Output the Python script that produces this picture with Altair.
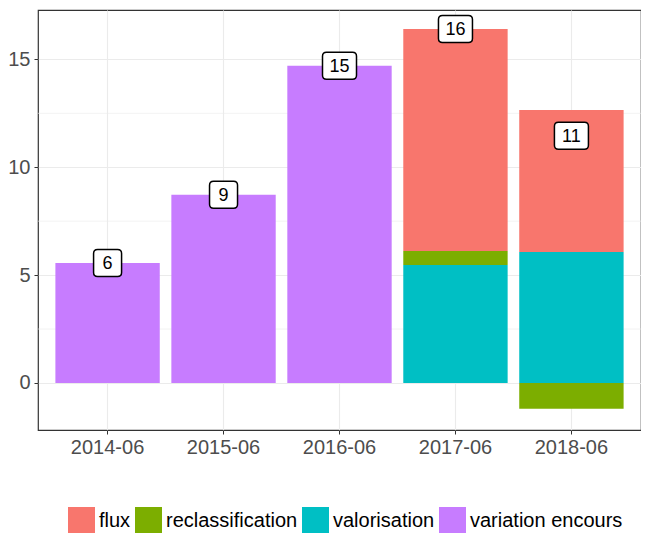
import altair as alt
import pandas as pd

# ---- data ----
dates = ["2014-06", "2015-06", "2016-06", "2017-06", "2018-06"]
series = ["flux", "reclassification", "valorisation", "variation encours"]
flux = [0, 0, 0, 10.29, 6.59]
reclassification = [0, 0, 0, 0.65, -1.2]
valorisation = [0, 0, 0, 5.47, 6.07]
variation_encours = [5.56, 8.72, 14.7, 0, 0]
colors = ["#F8766D", "#7CAE00", "#00BFC4", "#C77CFF"]
y_ticks = [0, 5, 10, 15]
y_minor = [2.5, 7.5, 12.5]

rows = []
for name, vals in zip(series, [flux, reclassification, valorisation, variation_encours]):
    for d, v in zip(dates, vals):
        if v != 0:
            rows.append({"date": d, "type": name, "value": v})
df = pd.DataFrame(rows)
order_map = {"valorisation": 1, "reclassification": 2, "flux": 3, "variation encours": 4}
df["ord"] = df["type"].map(order_map)

minor_df = pd.DataFrame({"y": y_minor})


def rrect(w, h, r):
    return (f"M {-w + r} {-h} L {w - r} {-h} Q {w} {-h} {w} {-h + r} "
            f"L {w} {h - r} Q {w} {h} {w - r} {h} L {-w + r} {h} "
            f"Q {-w} {h} {-w} {h - r} L {-w} {-h + r} Q {-w} {-h} {-w + r} {-h} Z")


S = 34.0
path1 = rrect(28 / S, 27 / S, 4 / 17)
path2 = rrect(1.0, 27 / S, 4 / 17)

xscale = alt.Scale(domain=dates, paddingInner=0.1, paddingOuter=0.15)
yscale = alt.Scale(domain=[-2.18, 17.29], nice=False, zero=False)

x_enc = alt.X("date:N", scale=xscale, title=None,
              axis=alt.Axis(labelAngle=0, bandPosition=0.5))
y_enc = alt.Y("value:Q", scale=yscale, title=None,
              axis=alt.Axis(values=y_ticks))

minor = alt.Chart(minor_df).mark_rule(color="#EBEBEB", strokeWidth=0.6).encode(
    y=alt.Y("y:Q", scale=yscale)
)

bars = alt.Chart(df).mark_bar().encode(
    x=x_enc,
    y=y_enc,
    color=alt.Color("type:N", scale=alt.Scale(domain=series, range=colors),
                    title=None,
                    legend=alt.Legend(orient="none", legendX=30, legendY=497,
                                      direction="horizontal", symbolType="square",
                                      symbolSize=729, symbolStrokeWidth=0,
                                      labelFontSize=20, labelColor="#000000",
                                      labelOffset=4, columnPadding=4,
                                      symbolOpacity=1)),
    order=alt.Order("ord:Q", sort="ascending"),
)

base_lbl = alt.Chart(df).transform_aggregate(
    total="sum(value)", groupby=["date"]
).transform_calculate(
    lab="format(round(datum.total), 'd')",
    nd="length(format(round(datum.total), 'd')) > 1 ? 'two' : 'one'",
)

boxes = base_lbl.mark_point(filled=True, fill="white", stroke="#000000",
                            strokeWidth=1.5, size=S * S, opacity=1).encode(
    x=alt.X("date:N", scale=xscale),
    y=alt.Y("total:Q", scale=yscale),
    shape=alt.Shape("nd:N", scale=alt.Scale(domain=["one", "two"], range=[path1, path2]),
                    legend=None),
)

texts = base_lbl.mark_text(fontSize=18, color="#000000", baseline="middle", dy=1).encode(
    x=alt.X("date:N", scale=xscale),
    y=alt.Y("total:Q", scale=yscale),
    text="lab:N",
)

chart = alt.layer(minor, bars, boxes, texts).properties(
    width=603, height=420,
    autosize=alt.AutoSizeParams(type="none"),
    padding={"left": 30, "top": 2, "right": 0, "bottom": 103},
).configure(
    font="Liberation Sans",
).configure_view(
    stroke="#333333", strokeWidth=1.2,
).configure_axis(
    domain=False, grid=True, gridColor="#EBEBEB", gridWidth=1.1,
    tickColor="#333333", tickSize=4, tickWidth=1,
    labelFontSize=20, labelColor="#4D4D4D", labelPadding=3,
    labelFont="Liberation Sans",
).configure_axisY(labelPadding=4)

chart.save("out.html", embed_options={"renderer": "svg", "actions": False})
